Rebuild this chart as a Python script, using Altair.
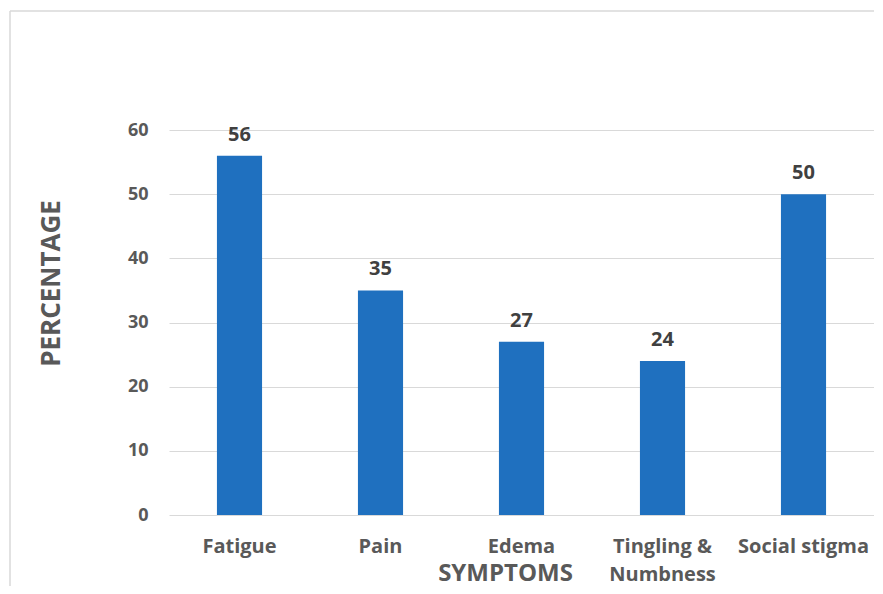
import altair as alt
import pandas as pd

categories = ["Fatigue", "Pain", "Edema", "Tingling & Numbness", "Social stigma"]
values = [56, 35, 27, 24, 50]
y_ticks = [0, 10, 20, 30, 40, 50, 60]

df = pd.DataFrame({"symptom": categories, "pct": values})

FONT = "Open Sans"
GRID = "#D9D9D9"

base = alt.Chart(df)

x_enc = alt.X(
    "symptom:N",
    sort=categories,
    scale=alt.Scale(paddingInner=0.68, paddingOuter=0.34),
    axis=alt.Axis(
        title="SYMPTOMS",
        titleFont=FONT, titleFontSize=24, titleFontWeight="bold", titleColor="#595959",
        titleX=336, titleY=65, titleBaseline="alphabetic", titleAnchor="start", titleAlign="center",
        labelFont=FONT, labelFontSize=20, labelFontWeight="bold", labelColor="#595959",
        labelAngle=0, labelPadding=21, labelLineHeight=28, labelBaseline="top",
        labelExpr="datum.label == 'Tingling & Numbness' ? ['Tingling &', 'Numbness'] : datum.label",
        ticks=False, tickSize=0, domain=False, grid=False,
    ),
)

y_enc = alt.Y(
    "pct:Q",
    scale=alt.Scale(domain=[0, 60], nice=False),
    axis=alt.Axis(
        title="PERCENTAGE",
        values=y_ticks,
        titleFont=FONT, titleFontSize=26, titleFontWeight="bold", titleColor="#595959",
        titleX=-118, titleY=153, titleBaseline="middle", titleAlign="center", titleAngle=270,
        labelFont=FONT, labelFontSize=18, labelFontWeight="bold", labelColor="#595959",
        labelPadding=21, ticks=False, tickSize=0, domain=False,
        grid=True, gridColor=GRID, gridWidth=1,
    ),
)

bars = base.mark_bar(color="#1F70BF").encode(x=x_enc, y=y_enc)

labels = base.mark_text(
    font=FONT, fontSize=20, fontWeight="bold", color="#404040",
    baseline="alphabetic", dy=-15,
).encode(x=alt.X("symptom:N", sort=categories), y="pct:Q", text="pct:Q")

border_data = alt.Data(values=[{"a": 1}])
top_border = alt.Chart(border_data).mark_rule(color=GRID, strokeWidth=1.5).encode(
    x=alt.value(-159), x2=alt.value(720), y=alt.value(-119)
)
left_border = alt.Chart(border_data).mark_rule(color=GRID, strokeWidth=1.5).encode(
    x=alt.value(-159), y=alt.value(-119), y2=alt.value(470)
)

chart = alt.layer(top_border, left_border, bars, labels).properties(
    width=705, height=385,
    autosize=alt.AutoSizeParams(type="none"),
    padding={"left": 161, "top": 122, "right": 0, "bottom": 71},
    background="white",
).configure_view(stroke=None)

chart.save("out.html", embed_options={"renderer": "svg", "actions": False})
